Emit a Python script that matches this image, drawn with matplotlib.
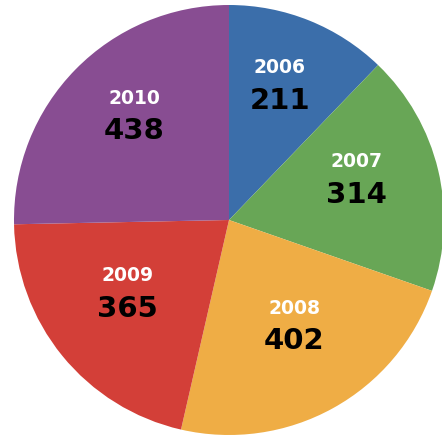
import numpy as np
import matplotlib
matplotlib.use("Agg")
import matplotlib.pyplot as plt

years = ["2006", "2007", "2008", "2009", "2010"]
values = [211, 314, 402, 365, 438]
colors = ["#3b6eaa", "#68a656", "#efad45", "#d33f38", "#884d92"]

# label placement style (radius fraction, angle tweak in degrees)
label_r = [0.69, 0.63, 0.56, 0.57, 0.67]
label_dang = [2, 6, 4, -5, -4.5]

W, H = 442, 439
fig = plt.figure(figsize=(W / 100, H / 100), dpi=100)
ax = fig.add_axes([0, 0, 1, 1])

cx, cy, R = 229, 218, 215
wedges, _ = ax.pie(values, colors=colors, startangle=90, counterclock=False,
                   radius=R, center=(cx, cy), frame=True,
                   wedgeprops=dict(linewidth=0))
ax.set_xlim(0, W)
ax.set_ylim(0, H)
ax.set_aspect("equal")
ax.axis("off")

for w, yr, v, rf, da in zip(wedges, years, values, label_r, label_dang):
    mid = np.deg2rad((w.theta1 + w.theta2) / 2 + da)
    x = cx + rf * R * np.cos(mid)
    y = cy + rf * R * np.sin(mid) - 3
    ax.text(x, y + 17, yr, ha="center", va="center", color="white",
            fontsize=13.5, fontweight="bold", family="DejaVu Sans")
    ax.text(x, y - 16, str(v), ha="center", va="center", color="black",
            fontsize=21, fontweight="bold", family="DejaVu Sans")

fig.savefig("out.png", dpi=100, facecolor="white")
